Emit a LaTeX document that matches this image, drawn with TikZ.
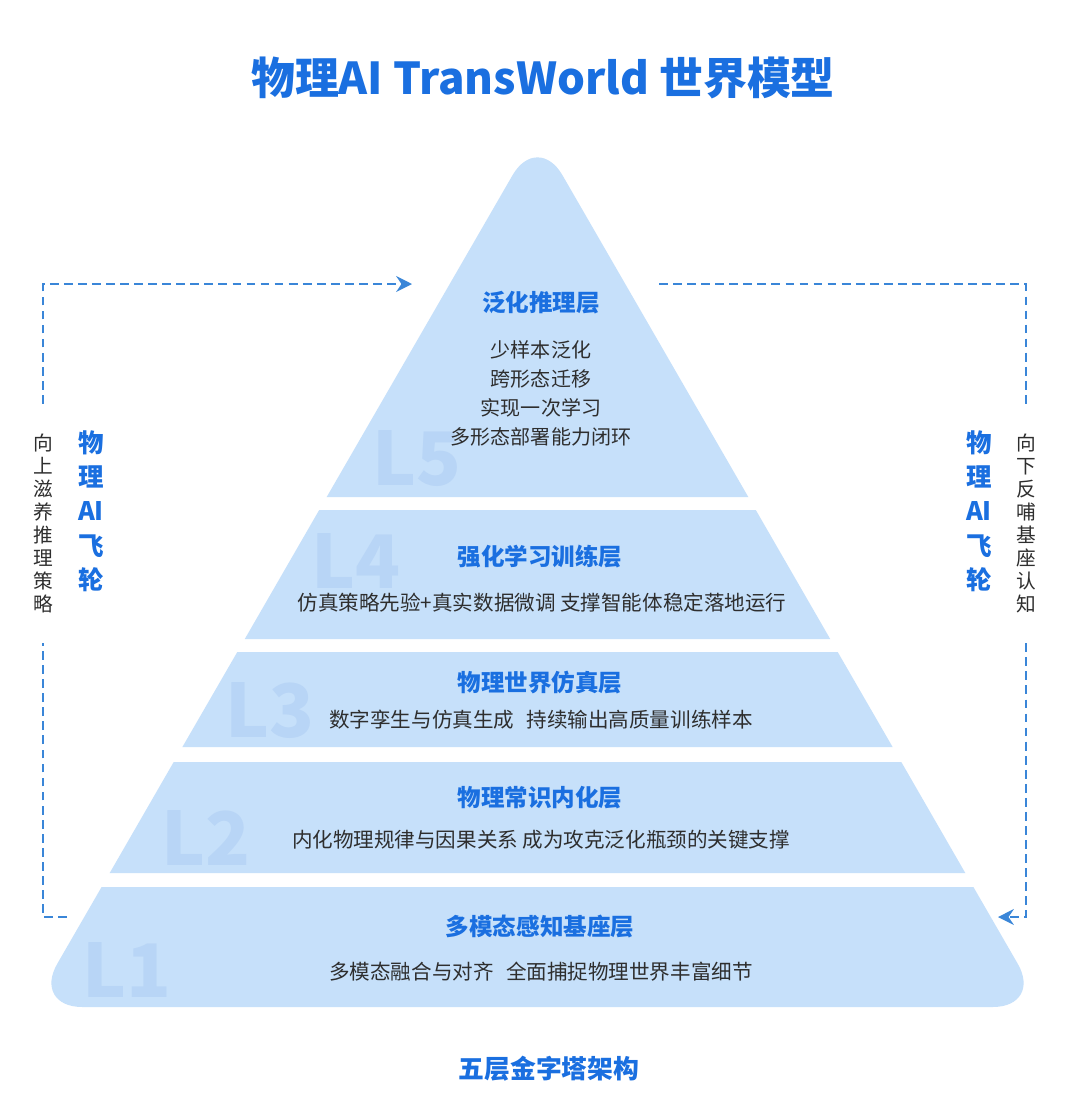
\documentclass[tikz,border=0pt]{standalone}
\usepackage{fontspec}
\setmainfont{Noto Sans CJK SC}
\usepackage{xcolor}
\usepackage{tikz}
\usetikzlibrary{arrows.meta,positioning}

\definecolor{titleblue}{HTML}{1A6FE0}
\definecolor{bandblue}{HTML}{C6E0FA}
\definecolor{levelblue}{HTML}{B8D5F6}
\definecolor{loopblue}{HTML}{3A86D8}
\definecolor{bodygray}{HTML}{2E2E2E}

\begin{document}
\begin{tikzpicture}[x=0.02cm, y=-0.02cm,
    band/.style={fill=bandblue},
    level/.style={anchor=base west, inner sep=0, text=levelblue, font=\fontsize{42}{42}\selectfont\bfseries},
    heading/.style={inner sep=0, text=titleblue, font=\fontsize{13.4}{16}\selectfont\bfseries},
    body/.style={inner sep=0, text=bodygray, align=center, font=\fontsize{11.7}{16.4}\selectfont},
    flywheel/.style={inner sep=0, text=titleblue, align=center, font=\fontsize{14.5}{19.5}\selectfont\bfseries},
    sidenote/.style={inner xsep=0, inner ysep=17pt, text=bodygray, align=center, font=\fontsize{11.2}{13.1}\selectfont},
    loop/.style={draw=loopblue, line width=1.1pt, dash pattern=on 5pt off 3pt},
    looparrow/.style={-{Stealth[length=9pt, width=9pt, inset=3pt]}}
]

% Canvas
\fill[white] (0,0) rectangle (1080,1109);
\useasboundingbox (0,0) rectangle (1080,1109);

% Title
\node[font=\fontsize{25}{30}\selectfont\bfseries, text=titleblue] (title) at (543,78) {物理AI TransWorld 世界模型};

% Pyramid bands
\fill[band] (326.7,497) -- (512.5,175.3) .. controls (526.3,151.4) and (548.7,151.4) .. (562.5,175.3) -- (748.3,497) -- cycle;
\fill[band] (319.2,510) -- (755.8,510) -- (830.2,639) -- (244.8,639) -- cycle;
\fill[band] (237.3,652) -- (837.7,652) -- (892.6,747) -- (182.4,747) -- cycle;
\fill[band] (173.7,762) -- (901.3,762) -- (965.3,873) -- (109.7,873) -- cycle;
\fill[band] (101.6,887) -- (973.4,887) -- (1017.7,963.7) .. controls (1031.5,987.6) and (1020.3,1007) .. (992.7,1007) -- (82.3,1007) .. controls (54.7,1007) and (43.5,987.6) .. (57.3,963.7) -- cycle;

% Level marks
\node[level] (l5) at (372,485) {L5};
\node[level] (l4) at (311,588) {L4};
\node[level] (l3) at (225,737) {L3};
\node[level] (l2) at (161,865) {L2};
\node[level] (l1) at (82,997) {L1};

% L5
\node[heading] (h5) at (541,303) {泛化推理层};
\node[body, font=\fontsize{11.4}{16.4}\selectfont] (b5) at (541,393.5) {少样本泛化\\跨形态迁移\\实现一次学习\\多形态部署能力闭环};

% L4
\node[heading] (h4) at (540,557) {强化学习训练层};
\node[body] (b4) at (542,603) {仿真策略先验+真实数据微调 支撑智能体稳定落地运行};

% L3
\node[heading] (h3) at (540,683) {物理世界仿真层};
\node[body] (b3) at (541,720) {数字孪生与仿真生成\hspace{0.6em}持续输出高质量训练样本};

% L2
\node[heading] (h2) at (540,798) {物理常识内化层};
\node[body] (b2) at (541,840) {内化物理规律与因果关系 成为攻克泛化瓶颈的关键支撑};

% L1
\node[heading] (h1) at (540,927) {多模态感知基座层};
\node[body] (b1) at (541,972) {多模态融合与对齐\hspace{0.6em}全面捕捉物理世界丰富细节};

% Caption
\node[font=\fontsize{14.7}{18}\selectfont\bfseries, text=titleblue] (caption) at (549,1069) {五层金字塔架构};

% Flywheel, left side
\node[sidenote] (upL) at (43,523.5) {向\\上\\滋\\养\\推\\理\\策\\略};
\node[flywheel] (fwL) at (91,511) {物\\理\\AI\\飞\\轮};
\coordinate (Lfoot) at (67,917);
\coordinate (Ltip) at (412,284);
\draw[loop] (Lfoot) -| (upL.south);
\draw[loop, looparrow] (upL.north) |- (Ltip);

% Flywheel, right side
\node[flywheel] (fwR) at (979,511) {物\\理\\AI\\飞\\轮};
\node[sidenote] (downR) at (1026,523.5) {向\\下\\反\\哺\\基\\座\\认\\知};
\coordinate (Rstart) at (659,284);
\coordinate (Rtip) at (998,917);
\draw[loop] (Rstart) -| (downR.north);
\draw[loop, looparrow] (downR.south) |- (Rtip);

\end{tikzpicture}
\end{document}
